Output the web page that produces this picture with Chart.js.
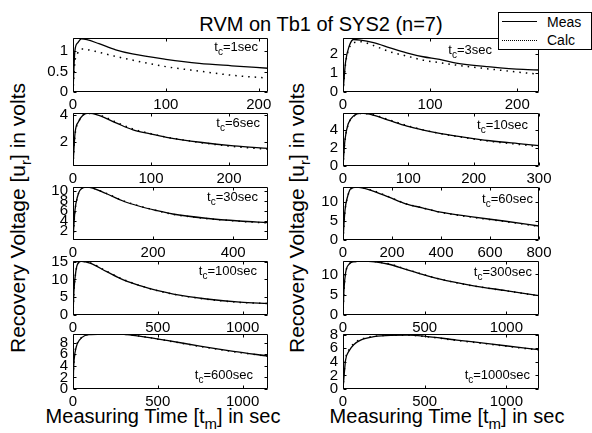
<!DOCTYPE html>
<html>
<head>
<meta charset="utf-8">
<script src="https://cdn.jsdelivr.net/npm/chart.js@4.4.0/dist/chart.umd.min.js"></script>
<style>
  body { margin: 0; background: #fff; width: 592px; height: 433px; position: relative; overflow: hidden;
         font-family: "Liberation Sans", Arial, sans-serif; color: #000; }
  canvas { position: absolute; }
  .txt { position: absolute; white-space: nowrap; }
  .title { font-size: 20px; line-height: 20px; transform: translateX(-50%); }
  .ylab { font-size: 21px; line-height: 21px; transform: translate(-50%, -50%) rotate(-90deg); }
  .xlab { font-size: 20px; line-height: 20px; transform: translateX(-50%); }
  .note { font-size: 13px; line-height: 14px; }
  .note sub { font-size: 10px; vertical-align: -4px; line-height: 0; }
  .big sub { font-size: 15px; vertical-align: -6px; line-height: 0; }
  #legend { position: absolute; left: 498px; top: 12px; width: 92px; height: 36px; border: 1px solid #000;
            background: #fff; z-index: 5; font-size: 14px; }
</style>
</head>
<body>
<div class="txt title" style="left:321px; top:14px;">RVM on Tb1 of SYS2 (n=7)</div>
<div class="txt ylab big" style="left:17px; top:218px;">Recovery Voltage [u<sub>r</sub>] in volts</div>
<div class="txt ylab big" style="left:296px; top:218px;">Recovery Voltage [u<sub>r</sub>] in volts</div>
<div class="txt xlab big" style="left:163px; top:406px;">Measuring Time [t<sub>m</sub>] in sec</div>
<div class="txt xlab big" style="left:447px; top:406px;">Measuring Time [t<sub>m</sub>] in sec</div>
<div id="legend">
  <div style="position:absolute; left:3px; top:8px; width:35px; border-top:1px solid #000;"></div>
  <div style="position:absolute; left:48px; top:1px;">Meas</div>
  <div style="position:absolute; left:3px; top:27px; width:35px; border-top:1.5px dotted #000;"></div>
  <div style="position:absolute; left:48px; top:19px;">Calc</div>
</div>
<script>
// tc = 1 sec
const t1 = [0, 2, 5, 9, 15, 28, 46, 64, 100, 136, 171, 210];
const meas1 = [0, 1.0, 1.2, 1.3, 1.28, 1.18, 1.03, 0.93, 0.8, 0.7, 0.64, 0.58];
const calc1 = [0, 0.72, 0.95, 1.05, 1.04, 0.97, 0.87, 0.78, 0.62, 0.51, 0.41, 0.34];
// tc = 3 sec
const t2 = [0, 3, 7, 12, 20, 35, 54, 73, 92, 111, 130, 169, 207, 225];
const meas2 = [0, 1.6, 2.4, 2.77, 2.74, 2.6, 2.33, 2.07, 1.86, 1.72, 1.52, 1.33, 1.19, 1.16];
const calc2 = [0, 1.5, 2.3, 2.6, 2.65, 2.45, 2.12, 1.9, 1.68, 1.55, 1.42, 1.21, 1.02, 0.94];
// tc = 6 sec
const t3 = [0, 2.6, 7, 13, 20, 35, 56, 77, 99, 120, 163, 206, 250];
const meas3 = [0.25, 2.64, 3.5, 4.0, 4.15, 3.93, 3.39, 2.89, 2.59, 2.34, 1.97, 1.7, 1.52];
const calc3 = [0.25, 2.5, 3.45, 4.0, 4.12, 3.98, 3.45, 2.95, 2.62, 2.35, 1.95, 1.65, 1.45];
// tc = 10 sec
const t4 = [0, 3, 8, 16, 28, 46, 72, 98, 123, 148, 174, 225, 276, 300];
const meas4 = [0, 2.9, 4.7, 5.55, 5.88, 5.67, 5.04, 4.44, 4.0, 3.63, 3.33, 2.81, 2.44, 2.26];
const calc4 = [0, 2.8, 4.6, 5.5, 5.85, 5.7, 5.1, 4.5, 4.02, 3.62, 3.3, 2.75, 2.35, 2.15];
// tc = 30 sec
const t5 = [0, 5, 11, 17, 34, 84, 125, 166, 208, 249, 332, 415, 487];
const meas5 = [0.3, 6.2, 8.8, 10.1, 10.8, 9.45, 8.0, 6.95, 6.1, 5.4, 4.55, 4.0, 3.7];
const calc5 = [0.3, 6.0, 8.7, 10.1, 10.8, 9.5, 8.05, 7.0, 6.1, 5.35, 4.5, 3.95, 3.6];
// tc = 60 sec
const t6 = [0, 8, 18, 31, 55, 120, 188, 256, 324, 392, 528, 664, 800];
const meas6 = [0, 7.8, 11.3, 13.5, 14.0, 13.0, 11.3, 9.55, 8.5, 7.4, 6.1, 4.95, 3.7];
const calc6 = [0, 7.5, 11.2, 13.4, 14.0, 13.1, 11.4, 9.6, 8.5, 7.4, 6.0, 4.85, 3.6];
// tc = 100 sec
const t7 = [0, 6, 18, 31, 50, 100, 199, 297, 395, 494, 592, 788, 985, 1150];
const meas7 = [0, 7.1, 12.7, 14.7, 15.1, 14.6, 12.2, 9.9, 8.25, 6.9, 5.9, 4.5, 3.6, 3.25];
const calc7 = [0, 6.8, 12.5, 14.6, 15.1, 14.7, 12.3, 10.0, 8.3, 6.9, 5.85, 4.45, 3.55, 3.2];
// tc = 300 sec
const t8 = [0, 6, 16, 37, 67, 118, 281, 384, 486, 588, 792, 996, 1200];
const meas8 = [0, 6.2, 10.4, 12.5, 13.1, 13.25, 12.5, 11.25, 10.0, 8.9, 7.25, 6.0, 4.75];
const calc8 = [0, 6.0, 10.3, 12.5, 13.1, 13.3, 12.6, 11.3, 10.05, 8.9, 7.2, 5.95, 4.7];
// tc = 600 sec
const t9 = [0, 3, 6.5, 19.5, 39, 68, 106, 200, 300, 400, 553, 749, 946, 1150];
const meas9 = [0, 3.0, 5.0, 7.3, 8.5, 9.2, 9.4, 9.5, 9.45, 9.1, 8.4, 7.4, 6.5, 5.7];
const calc9 = [0, 3.3, 5.2, 7.4, 8.55, 9.2, 9.45, 9.5, 9.45, 9.1, 8.35, 7.35, 6.45, 5.65];
// tc = 1000 sec
const t10 = [0, 10, 16, 37, 67, 108, 189, 291, 400, 494, 697, 900, 1103, 1200];
const meas10 = [0, 2.9, 4.3, 5.6, 6.55, 7.2, 7.7, 7.9, 7.92, 7.8, 7.2, 6.65, 6.05, 5.8];
const calc10 = [0, 3.2, 4.5, 5.8, 6.7, 7.3, 7.75, 7.9, 7.9, 7.75, 7.15, 6.6, 6.0, 5.75];

// tick values per panel
const xTicks1 = [0, 100, 200], yTicks1 = [0, 0.5, 1];
const xTicks2 = [0, 100, 200], yTicks2 = [0, 1, 2];
const xTicks3 = [0, 100, 200], yTicks3 = [2, 4];
const xTicks4 = [0, 100, 200, 300], yTicks4 = [0, 2, 4];
const xTicks5 = [0, 200, 400], yTicks5 = [2, 4, 6, 8, 10];
const xTicks6 = [0, 200, 400, 600, 800], yTicks6 = [0, 5, 10];
const xTicks7 = [0, 500, 1000], yTicks7 = [0, 5, 10, 15];
const xTicks8 = [0, 500, 1000], yTicks8 = [0, 5, 10];
const xTicks9 = [0, 500, 1000], yTicks9 = [0, 2, 4, 6, 8];
const xTicks10 = [0, 500, 1000], yTicks10 = [0, 2, 4, 6, 8];

const tcLabels = ['1sec', '3sec', '6sec', '10sec', '30sec', '60sec', '100sec', '300sec', '600sec', '1000sec'];

const FONT = 'Liberation Sans, Arial, sans-serif';

// box outline + inward ticks on all four sides (matlab style)
const boxPlugin = {
    id: 'box',
    afterDatasetsDraw(chart) {
        const ctx = chart.ctx;
        const a = chart.chartArea;
        const sx = chart.scales.x, sy = chart.scales.y;
        const l = Math.round(a.left) + 0.5, r = Math.round(a.right) - 0.5;
        const t = Math.round(a.top) + 0.5, b = Math.round(a.bottom) - 0.5;
        ctx.save();
        ctx.strokeStyle = '#000';
        ctx.lineWidth = 1;
        ctx.beginPath();
        ctx.rect(l, t, r - l, b - t);
        sx.ticks.forEach(tk => {
            const x = Math.round(sx.getPixelForValue(tk.value)) + 0.5;
            ctx.moveTo(x, b); ctx.lineTo(x, b - 3);
            ctx.moveTo(x, t); ctx.lineTo(x, t + 3);
        });
        sy.ticks.forEach(tk => {
            const y = Math.round(sy.getPixelForValue(tk.value)) + 0.5;
            ctx.moveTo(l, y); ctx.lineTo(l + 3, y);
            ctx.moveTo(r, y); ctx.lineTo(r - 3, y);
        });
        ctx.stroke();
        ctx.restore();
    }
};

function createPanel(p) {
    const padL = 45, padR = 24, padT = 10, padB = 26;
    const cv = document.createElement('canvas');
    cv.width = p.w + padL + padR;
    cv.height = p.h + padT + padB;
    cv.style.left = (p.left - padL) + 'px';
    cv.style.top = (p.top - padT) + 'px';
    document.body.appendChild(cv);

    const pts = arr => p.t.map((x, i) => ({ x: x, y: arr[i] }));

    new Chart(cv, {
        type: 'line',
        data: {
            datasets: [{
                label: 'Meas',
                data: pts(p.meas),
                borderColor: '#000',
                borderWidth: 1.3,
                pointRadius: 0,
                cubicInterpolationMode: 'monotone'
            }, {
                label: 'Calc',
                data: pts(p.calc),
                borderColor: '#000',
                borderWidth: 1.5,
                borderDash: [1.5, 5],
                pointRadius: 0,
                cubicInterpolationMode: 'monotone'
            }]
        },
        options: {
            responsive: false,
            animation: false,
            devicePixelRatio: 1,
            layout: { padding: { left: 0, right: padR, top: padT, bottom: 0 } },
            plugins: { legend: { display: false }, tooltip: { enabled: false } },
            scales: {
                x: {
                    type: 'linear', min: 0, max: p.xmax,
                    grid: { display: false, drawTicks: false },
                    border: { display: false },
                    ticks: { color: '#000', font: { family: FONT, size: 15 }, padding: 4, maxRotation: 0, autoSkip: false, callback: v => String(v) },
                    afterBuildTicks: s => { s.ticks = p.xticks.map(v => ({ value: v })); },
                    afterFit: s => { s.height = padB; s.paddingLeft = 0; s.paddingRight = 0; }
                },
                y: {
                    type: 'linear', min: p.ymin, max: p.ymax,
                    grid: { display: false, drawTicks: false },
                    border: { display: false },
                    ticks: { color: '#000', font: { family: FONT, size: 15 }, padding: 5, autoSkip: false, callback: v => String(v) },
                    afterBuildTicks: s => { s.ticks = p.yticks.map(v => ({ value: v })); },
                    afterFit: s => { s.width = padL; s.paddingTop = 0; s.paddingBottom = 0; }
                }
            }
        },
        plugins: [boxPlugin]
    });

    // t_c note inside the box
    const note = document.createElement('div');
    note.className = 'txt note';
    note.innerHTML = 't<sub>c</sub>=' + p.tc;
    note.style.right = (592 - (p.left + p.w - p.noteRight)) + 'px';
    note.style.top = (p.noteTop - 7) + 'px';
    document.body.appendChild(note);
}

const colL = 73, colR = 343, wL = 195, wR = 196;
const rows = [[38, 54], [113, 53], [187, 53], [261, 54], [334, 55]];

const panels = [
    { t: t1, meas: meas1, calc: calc1, xmax: 210, ymin: 0, ymax: 1.32, xticks: xTicks1, yticks: yTicks1, col: 0, row: 0, noteRight: 10, noteTop: 47 },
    { t: t2, meas: meas2, calc: calc2, xmax: 225, ymin: 0, ymax: 2.85, xticks: xTicks2, yticks: yTicks2, col: 1, row: 0, noteRight: 47, noteTop: 50 },
    { t: t3, meas: meas3, calc: calc3, xmax: 250, ymin: 0.2, ymax: 4.15, xticks: xTicks3, yticks: yTicks3, col: 0, row: 1, noteRight: 8, noteTop: 123 },
    { t: t4, meas: meas4, calc: calc4, xmax: 300, ymin: 0, ymax: 5.9, xticks: xTicks4, yticks: yTicks4, col: 1, row: 1, noteRight: 11, noteTop: 125 },
    { t: t5, meas: meas5, calc: calc5, xmax: 487, ymin: 0.2, ymax: 10.8, xticks: xTicks5, yticks: yTicks5, col: 0, row: 2, noteRight: 10, noteTop: 197 },
    { t: t6, meas: meas6, calc: calc6, xmax: 800, ymin: 0, ymax: 14, xticks: xTicks6, yticks: yTicks6, col: 1, row: 2, noteRight: 6, noteTop: 199 },
    { t: t7, meas: meas7, calc: calc7, xmax: 1150, ymin: 0, ymax: 15.2, xticks: xTicks7, yticks: yTicks7, col: 0, row: 3, noteRight: 11, noteTop: 271 },
    { t: t8, meas: meas8, calc: calc8, xmax: 1200, ymin: 0, ymax: 13.3, xticks: xTicks8, yticks: yTicks8, col: 1, row: 3, noteRight: 7, noteTop: 272 },
    { t: t9, meas: meas9, calc: calc9, xmax: 1150, ymin: 0, ymax: 9.5, xticks: xTicks9, yticks: yTicks9, col: 0, row: 4, noteRight: 15, noteTop: 375 },
    { t: t10, meas: meas10, calc: calc10, xmax: 1200, ymin: 0, ymax: 8.1, xticks: xTicks10, yticks: yTicks10, col: 1, row: 4, noteRight: 9, noteTop: 375 }
];

panels.forEach((p, i) => {
    p.tc = tcLabels[i];
    p.left = p.col === 0 ? colL : colR;
    p.w = p.col === 0 ? wL : wR;
    p.top = rows[p.row][0];
    p.h = rows[p.row][1];
    createPanel(p);
});
</script>
</body>
</html>
